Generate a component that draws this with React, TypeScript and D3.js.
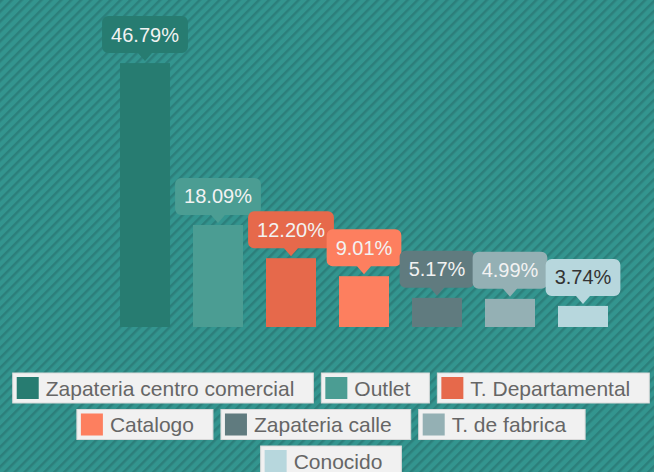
import React, { useEffect, useRef } from "react";
import * as d3 from "d3";

// chart data
const categories = [
  "Zapateria centro comercial",
  "Outlet",
  "T. Departamental",
  "Catalogo",
  "Zapateria calle",
  "T. de fabrica",
  "Conocido",
];
const values = [46.79, 18.09, 12.2, 9.01, 5.17, 4.99, 3.74];
const colors = ["#277c71", "#4b9d93", "#e6694b", "#fd7f5f", "#607b7f", "#94b0b4", "#b7d7dd"];
const labelTextColors = ["#f2f2f2", "#f2f2f2", "#f2f2f2", "#f2f2f2", "#f2f2f2", "#f2f2f2", "#333333"];

export default function App() {
  const ref = useRef<SVGSVGElement>(null);
  const width = 654;
  const height = 472;
  const font = "'Liberation Sans', Arial, sans-serif";

  useEffect(() => {
    const svg = d3.select(ref.current);
    svg.selectAll("*").remove();

    // striped background
    const defs = svg.append("defs");
    const pat = defs
      .append("pattern")
      .attr("id", "stripes")
      .attr("patternUnits", "userSpaceOnUse")
      .attr("width", 7)
      .attr("height", 7)
      .attr("patternTransform", "rotate(45)");
    pat.append("rect").attr("width", 7).attr("height", 7).attr("fill", "#33958f");
    pat.append("rect").attr("width", 2.5).attr("height", 7).attr("fill", "#2c7f7b");

    svg.append("rect").attr("width", width).attr("height", height).attr("fill", "url(#stripes)");

    const x = d3
      .scaleBand<string>()
      .domain(categories)
      .range([108.5, 619.5])
      .paddingInner(0.315)
      .paddingOuter(0.1575);
    const y = d3.scaleLinear().domain([0, 50]).range([327, 45]);

    const bars = svg.append("g");
    categories.forEach((c, i) => {
      bars
        .append("rect")
        .attr("x", x(c)!)
        .attr("y", y(values[i]))
        .attr("width", x.bandwidth())
        .attr("height", y(0) - y(values[i]))
        .attr("fill", colors[i]);
    });

    // value callouts
    const labels = svg.append("g");
    categories.forEach((c, i) => {
      const cx = x(c)! + x.bandwidth() / 2;
      const top = y(values[i]);
      const g = labels.append("g");
      const t = g
        .append("text")
        .attr("x", cx)
        .attr("text-anchor", "middle")
        .attr("font-family", font)
        .attr("font-size", 20)
        .attr("fill", labelTextColors[i])
        .text(values[i].toFixed(2) + "%");
      const tw = (t.node() as SVGTextElement).getComputedTextLength();
      const bw = tw + 18;
      const bh = 37;
      const bottom = top - 10;
      const x0 = cx - bw / 2;
      const x1 = cx + bw / 2;
      const y0 = bottom - bh;
      const r = 6;
      const p = d3.path();
      p.moveTo(x0 + r, y0);
      p.lineTo(x1 - r, y0);
      p.arcTo(x1, y0, x1, y0 + r, r);
      p.lineTo(x1, bottom - r);
      p.arcTo(x1, bottom, x1 - r, bottom, r);
      p.lineTo(cx + 7, bottom);
      p.lineTo(cx, bottom + 8);
      p.lineTo(cx - 7, bottom);
      p.lineTo(x0 + r, bottom);
      p.arcTo(x0, bottom, x0, bottom - r, r);
      p.lineTo(x0, y0 + r);
      p.arcTo(x0, y0, x0 + r, y0, r);
      p.closePath();
      g.insert("path", "text").attr("d", p.toString()).attr("fill", colors[i]);
      t.attr("y", y0 + bh / 2 + 7);
    });

    // legend, wrapped and centred
    const legend = svg.append("g");
    const items = categories.map((c, i) => {
      const g = legend.append("g");
      const box = g.append("rect");
      g.append("rect")
        .attr("x", 4)
        .attr("y", 4)
        .attr("width", 22)
        .attr("height", 22)
        .attr("fill", colors[i]);
      const t = g
        .append("text")
        .attr("x", 33)
        .attr("y", 22.5)
        .attr("font-family", font)
        .attr("font-size", 21)
        .attr("fill", "#666")
        .text(c);
      const w = 33 + (t.node() as SVGTextElement).getComputedTextLength() + 19;
      box
        .attr("width", w)
        .attr("height", 30)
        .attr("fill", "#f1f1f1")
        .attr("stroke", "#d9d9d9")
        .attr("stroke-width", 1);
      return { g, w };
    });

    const gap = 8;
    const maxW = 644;
    const rows: { g: any; w: number }[][] = [[]];
    let rowW = 0;
    items.forEach((it) => {
      const row = rows[rows.length - 1];
      const need = row.length ? rowW + gap + it.w : it.w;
      if (row.length && need > maxW) {
        rows.push([it]);
        rowW = it.w;
      } else {
        row.push(it);
        rowW = need;
      }
    });
    rows.forEach((row, ri) => {
      const total = d3.sum(row, (d) => d.w) + gap * (row.length - 1);
      let cx = 331 - total / 2;
      row.forEach((it) => {
        it.g.attr("transform", `translate(${cx},${373 + ri * 36.5})`);
        cx += it.w + gap;
      });
    });
  }, []);

  return (
    <svg
      ref={ref}
      width={width}
      height={height}
      style={{ position: "absolute", left: 0, top: 0, display: "block" }}
    />
  );
}
